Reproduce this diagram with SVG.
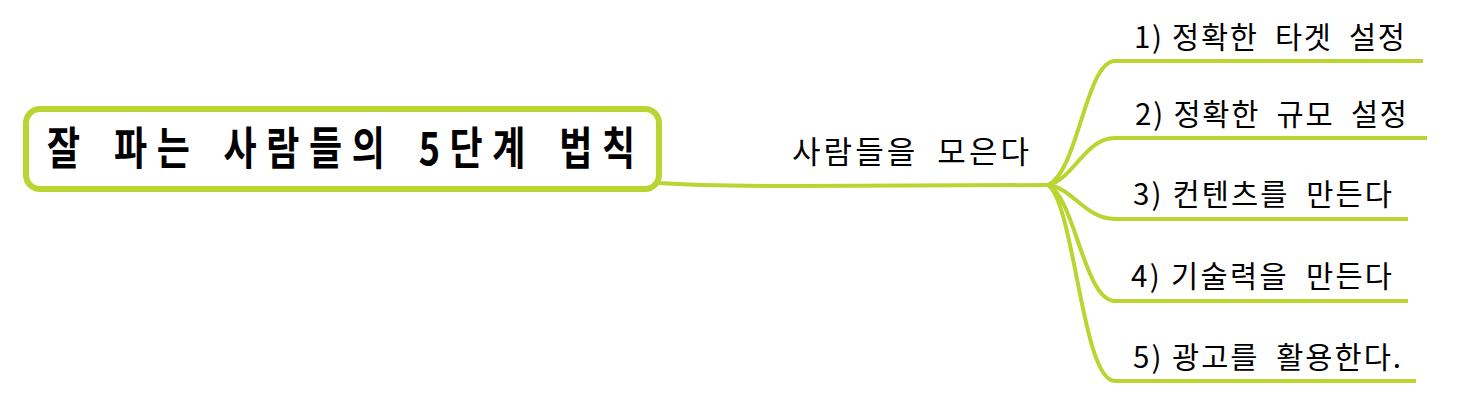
<svg xmlns="http://www.w3.org/2000/svg" width="1458" height="415" viewBox="0 0 1458 415">
<style>
.bg{fill:#ffffff}
.edge{fill:none;stroke:#b9d532;stroke-width:4;stroke-linecap:butt}
.rootbox{fill:#ffffff;stroke:#b9d532;stroke-width:6}
.t{font-family:"Noto Sans CJK KR","Noto Sans",sans-serif;fill:#000000}
.leaf{font-size:29.5px;word-spacing:8px}
.num{word-spacing:0}
.mid{font-size:31px;word-spacing:9px}
.root{font-size:45px;font-weight:700;word-spacing:8px}
</style>
<rect class="bg" x="0" y="0" width="1458" height="415"/>
<g id="connectors">
<path class="edge" d="M659,183 C700,186 760,186 800,186 L1048,185"/>
<path class="edge" d="M1048,185 C1078,172 1086,61 1115,61 L1423,61"/>
<path class="edge" d="M1048,185 C1073,180 1085,138 1115,138 L1427,138"/>
<path class="edge" d="M1048,185 C1073,188 1085,219 1115,219 L1408,219"/>
<path class="edge" d="M1048,185 C1075,197 1084,301 1115,301 L1408,301"/>
<path class="edge" d="M1048,185 C1075,205 1082,381 1115,381 L1416,381"/>
</g>
<g id="root">
<rect class="rootbox" x="26" y="109" width="633" height="80" rx="14" ry="14"/>
<text class="t root" transform="scale(0.8,1)" x="58.75" y="165" textLength="735" lengthAdjust="spacing">잘 파는 사람들의 5단계 법칙</text>
</g>
<g id="main">
<text class="t mid" x="792" y="163" textLength="237" lengthAdjust="spacing">사람들을 모은다</text>
</g>
<g id="leaf1">
<text class="t leaf" x="1134" y="48" textLength="271" lengthAdjust="spacing"><tspan class="num">1) </tspan>정확한 타겟 설정</text>
</g>
<g id="leaf2">
<text class="t leaf" x="1135" y="125" textLength="272" lengthAdjust="spacing"><tspan class="num">2) </tspan>정확한 규모 설정</text>
</g>
<g id="leaf3">
<text class="t leaf" x="1133" y="205" textLength="259" lengthAdjust="spacing"><tspan class="num">3) </tspan>컨텐츠를 만든다</text>
</g>
<g id="leaf4">
<text class="t leaf" x="1131" y="287" textLength="261" lengthAdjust="spacing"><tspan class="num">4) </tspan>기술력을 만든다</text>
</g>
<g id="leaf5">
<text class="t leaf" x="1133" y="368" textLength="268" lengthAdjust="spacing"><tspan class="num">5) </tspan>광고를 활용한다.</text>
</g>
</svg>
